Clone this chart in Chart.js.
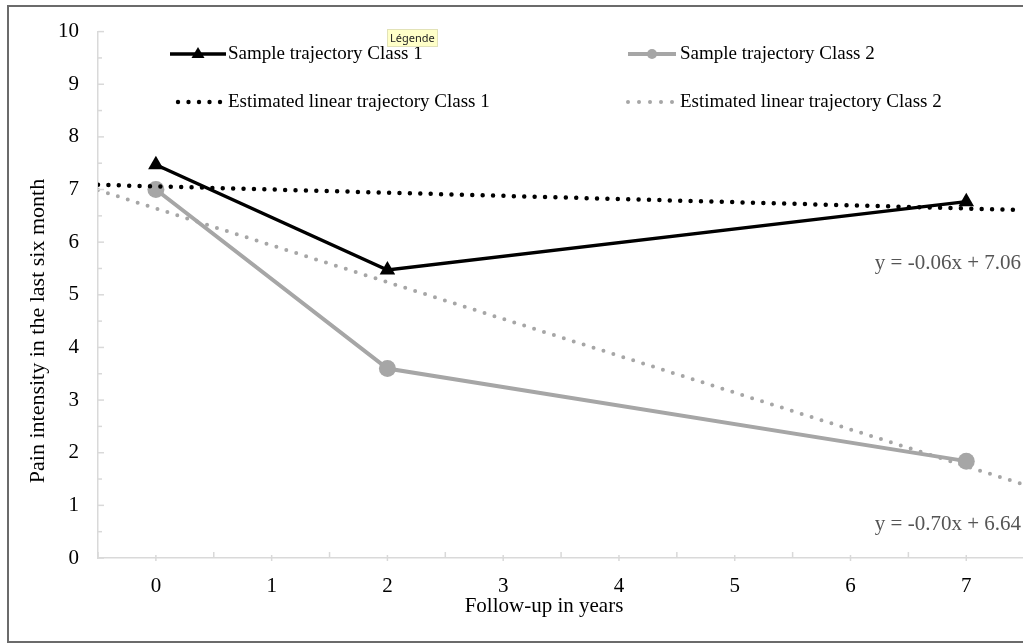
<!DOCTYPE html>
<html lang="en">
<head>
    <meta charset="UTF-8">
    <title>Pain trajectories</title>
    <style>
        body { margin: 0; background: #fff; }
        #wrap { width: 1023px; height: 644px; position: relative; }
    </style>
</head>
<body>
    <div id="wrap"><canvas id="canvas"></canvas></div>
</body>

<script src="https://cdn.jsdelivr.net/npm/chart.js"></script>

<script>
const years = [0, 2, 7];
const class1 = [7.47, 5.47, 6.77];
const class2 = [7.0, 3.6, 1.84];

// trend lines, end points
const trendX = [-0.5, 7.49];
const trend1 = [7.09, 6.61];
const trend2 = [6.99, 1.40];

const labels = [
  'Sample trajectory Class 1',
  'Sample trajectory Class 2',
  'Estimated linear trajectory Class 1',
  'Estimated linear trajectory Class 2'
];
const xTitle = 'Follow-up in years';
const yTitle = 'Pain intensity in the last six month';
const equations = ['y = -0.06x + 7.06', 'y = -0.70x + 6.64'];
const eqY = [5.6, 0.63];

const serif = 'Liberation Serif';
const grey = '#a6a6a6';

const pts = (xs, ys) => xs.map((x, i) => ({x: x, y: ys[i]}));

const extras = {
  id: 'extras',
  afterDraw(chart) {
    const ctx = chart.ctx;
    const xs = chart.scales.x, ys = chart.scales.y;
    ctx.save();

    // tick marks, drawn inside the plot
    ctx.strokeStyle = '#d9d9d9';
    ctx.lineWidth = 1.5;
    ys.ticks.forEach(t => {
      const y = ys.getPixelForValue(t.value);
      const len = Number.isInteger(t.value) ? 6 : 4;
      ctx.beginPath(); ctx.moveTo(xs.left, y); ctx.lineTo(xs.left + len, y); ctx.stroke();
    });
    xs.ticks.forEach(t => {
      const x = xs.getPixelForValue(t.value);
      const major = Number.isInteger(t.value);
      ctx.beginPath();
      ctx.moveTo(x, ys.bottom + (major ? 3 : 0));
      ctx.lineTo(x, ys.bottom - (major ? 3 : 6));
      ctx.stroke();
    });

    // axis titles
    ctx.fillStyle = '#000';
    ctx.font = '21px "' + serif + '"';
    ctx.textAlign = 'center';
    ctx.textBaseline = 'middle';
    ctx.fillText(xTitle, 544, 606);
    ctx.save();
    ctx.translate(38, 331);
    ctx.rotate(-Math.PI / 2);
    ctx.font = '22px "' + serif + '"';
    ctx.fillText(yTitle, 0, 0);
    ctx.restore();

    // equations
    ctx.fillStyle = '#555';
    ctx.font = '21px "' + serif + '"';
    ctx.textAlign = 'right';
    equations.forEach((e, i) => ctx.fillText(e, 1021, ys.getPixelForValue(eqY[i])));

    // legend
    ctx.font = '19px "' + serif + '"';
    ctx.textAlign = 'left';
    const rows = [54, 102];
    const cols = [[170, 226, 228, 178, 10.5], [628, 676, 680, 628, 11]];
    const colors = ['#000', grey];
    for (let c = 0; c < 2; c++) {
      const [x0, x1, tx, d0, dstep] = cols[c];
      ctx.strokeStyle = colors[c];
      ctx.fillStyle = colors[c];
      ctx.lineWidth = c === 0 ? 3.5 : 4;
      ctx.beginPath(); ctx.moveTo(x0, rows[0]); ctx.lineTo(x1, rows[0]); ctx.stroke();
      const mx = (x0 + x1) / 2;
      ctx.beginPath();
      if (c === 0) {
        ctx.moveTo(mx, rows[0] - 7); ctx.lineTo(mx + 6.5, rows[0] + 4); ctx.lineTo(mx - 6.5, rows[0] + 4);
        ctx.closePath();
      } else {
        ctx.arc(mx, rows[0], 5, 0, Math.PI * 2);
      }
      ctx.fill();
      for (let k = 0; k < 5; k++) {
        ctx.beginPath();
        ctx.arc(d0 + k * dstep, rows[1], c === 0 ? 2.2 : 2, 0, Math.PI * 2);
        ctx.fill();
      }
      ctx.fillStyle = '#000';
      ctx.fillText(labels[c], tx, rows[0]);
      ctx.fillText(labels[c + 2], tx, rows[1]);
    }

    // "Légende" hover tag
    ctx.fillStyle = '#ffffc8';
    ctx.fillRect(387, 29, 51, 18);
    ctx.strokeStyle = '#e2e2b8';
    ctx.lineWidth = 1;
    ctx.strokeRect(387.5, 29.5, 50, 17);
    ctx.fillStyle = '#222';
    ctx.font = '11px "Noto Sans"';
    ctx.fillText('Légende', 390, 38.5);

    // outer frame
    ctx.strokeStyle = '#6b6b6b';
    ctx.lineWidth = 2;
    ctx.strokeRect(8, 6, 1100, 636);
    ctx.restore();
  }
};

new Chart(document.getElementById('canvas'), {
  type: 'scatter',
  data: {
    datasets: [
      {
        label: labels[0],
        data: pts(years, class1),
        showLine: true,
        borderColor: '#000',
        backgroundColor: '#000',
        borderWidth: 3.5,
        pointStyle: 'triangle',
        pointRadius: 9,
        pointBorderWidth: 0
      },
      {
        label: labels[2],
        data: pts(trendX, trend1),
        showLine: true,
        borderColor: '#000',
        borderWidth: 4.5,
        borderDash: [0, 10.4],
        borderCapStyle: 'round',
        pointRadius: 0
      },
      {
        label: labels[1],
        data: pts(years, class2),
        showLine: true,
        borderColor: grey,
        backgroundColor: grey,
        borderWidth: 4,
        pointStyle: 'circle',
        pointRadius: 8.5,
        pointBorderWidth: 0
      },
      {
        label: labels[3],
        data: pts(trendX, trend2),
        showLine: true,
        borderColor: grey,
        borderWidth: 4,
        borderDash: [0, 10.4],
        borderCapStyle: 'round',
        pointRadius: 0
      }
    ]
  },
  options: {
    responsive: true,
    maintainAspectRatio: false,
    animation: false,
    layout: { autoPadding: false, padding: { top: 28, left: 0, right: 0, bottom: 0 } },
    plugins: {
      legend: { display: false },
      tooltip: { enabled: false }
    },
    scales: {
      x: {
        type: 'linear',
        min: -0.5,
        max: 7.49,
        grid: { display: false, drawTicks: false },
        border: { display: true, color: '#d9d9d9', width: 1.5 },
        ticks: {
          stepSize: 0.5,
          includeBounds: false,
          autoSkip: false,
          maxRotation: 0,
          padding: 16,
          color: '#000',
          font: { family: serif, size: 21 },
          callback: v => Number.isInteger(v) ? v : ''
        },
        afterFit: s => { s.height = 86; }
      },
      y: {
        min: 0,
        max: 10,
        grid: { display: false, drawTicks: false },
        border: { display: true, color: '#d9d9d9', width: 1.5 },
        ticks: {
          stepSize: 0.5,
          autoSkip: false,
          padding: 19,
          color: '#000',
          font: { family: serif, size: 21 },
          callback: v => Number.isInteger(v) ? v : ''
        },
        afterFit: s => { s.width = 98; }
      }
    }
  },
  plugins: [extras]
});
</script>
</html>
